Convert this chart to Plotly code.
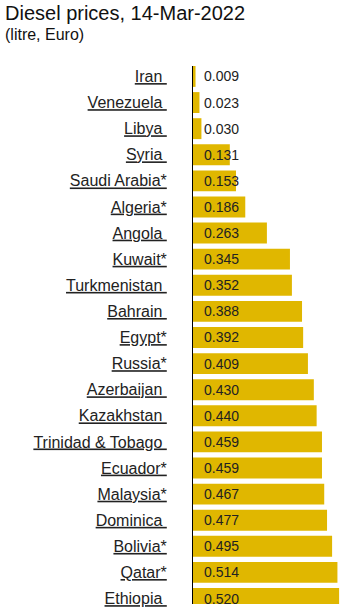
import plotly.graph_objects as go

countries = ["Iran", "Venezuela", "Libya", "Syria", "Saudi Arabia*", "Algeria*", "Angola",
             "Kuwait*", "Turkmenistan", "Bahrain", "Egypt*", "Russia*", "Azerbaijan",
             "Kazakhstan", "Trinidad & Tobago", "Ecuador*", "Malaysia*", "Dominica",
             "Bolivia*", "Qatar*", "Ethiopia"]
prices = [0.009, 0.023, 0.030, 0.131, 0.153, 0.186, 0.263, 0.345, 0.352, 0.388, 0.392,
          0.409, 0.430, 0.440, 0.459, 0.459, 0.467, 0.477, 0.495, 0.514, 0.520]

FONT = "Arial, 'Liberation Sans', sans-serif"
BAR = "#E0B700"
TXT = "#222222"

idx = list(range(len(countries)))
ticktext = ["<u>" + (c if c.endswith("*") else c + "\u00a0") + "</u>" for c in countries]

fig = go.Figure(go.Bar(
    x=prices, y=idx, orientation="h", width=0.8,
    marker=dict(color=BAR, line=dict(width=0)),
    hoverinfo="skip",
))

annotations = []
for i, v in zip(idx, prices):
    annotations.append(dict(x=0, y=i, xref="x", yref="y", text=f"{v:.3f}",
                            showarrow=False, xanchor="left", yanchor="middle",
                            xshift=9, font=dict(family=FONT, size=14, color=TXT)))

H = 607
top = 66
plot_h = H - top
annotations.append(dict(x=-(193 - 3) / 168, y=(H - 13) / plot_h, xref="paper", yref="paper",
                        text="Diesel prices, 14-Mar-2022", showarrow=False,
                        xanchor="left", yanchor="middle",
                        font=dict(family=FONT, size=20, color="#111111")))
annotations.append(dict(x=-(193 - 3) / 168, y=(H - 34.5) / plot_h, xref="paper", yref="paper",
                        text="(litre, Euro)", showarrow=False,
                        xanchor="left", yanchor="middle",
                        font=dict(family=FONT, size=16, color="#111111")))

fig.update_layout(
    width=361, height=H,
    margin=dict(l=193, r=0, t=top, b=0, pad=0),
    paper_bgcolor="white", plot_bgcolor="white",
    showlegend=False,
    annotations=annotations,
    xaxis=dict(range=[0, 168 / 281], showgrid=False, zeroline=False,
               showticklabels=False, ticks="", fixedrange=True),
    yaxis=dict(range=[20.21, -0.4], tickvals=idx, ticktext=ticktext,
               showgrid=False, zeroline=False, showline=True, linecolor="#000000",
               linewidth=1, ticks="", ticklabelstandoff=22, ticklabeloverflow="allow",
               tickfont=dict(family=FONT, size=16, color=TXT), fixedrange=True),
)

fig.write_html("out.html")
